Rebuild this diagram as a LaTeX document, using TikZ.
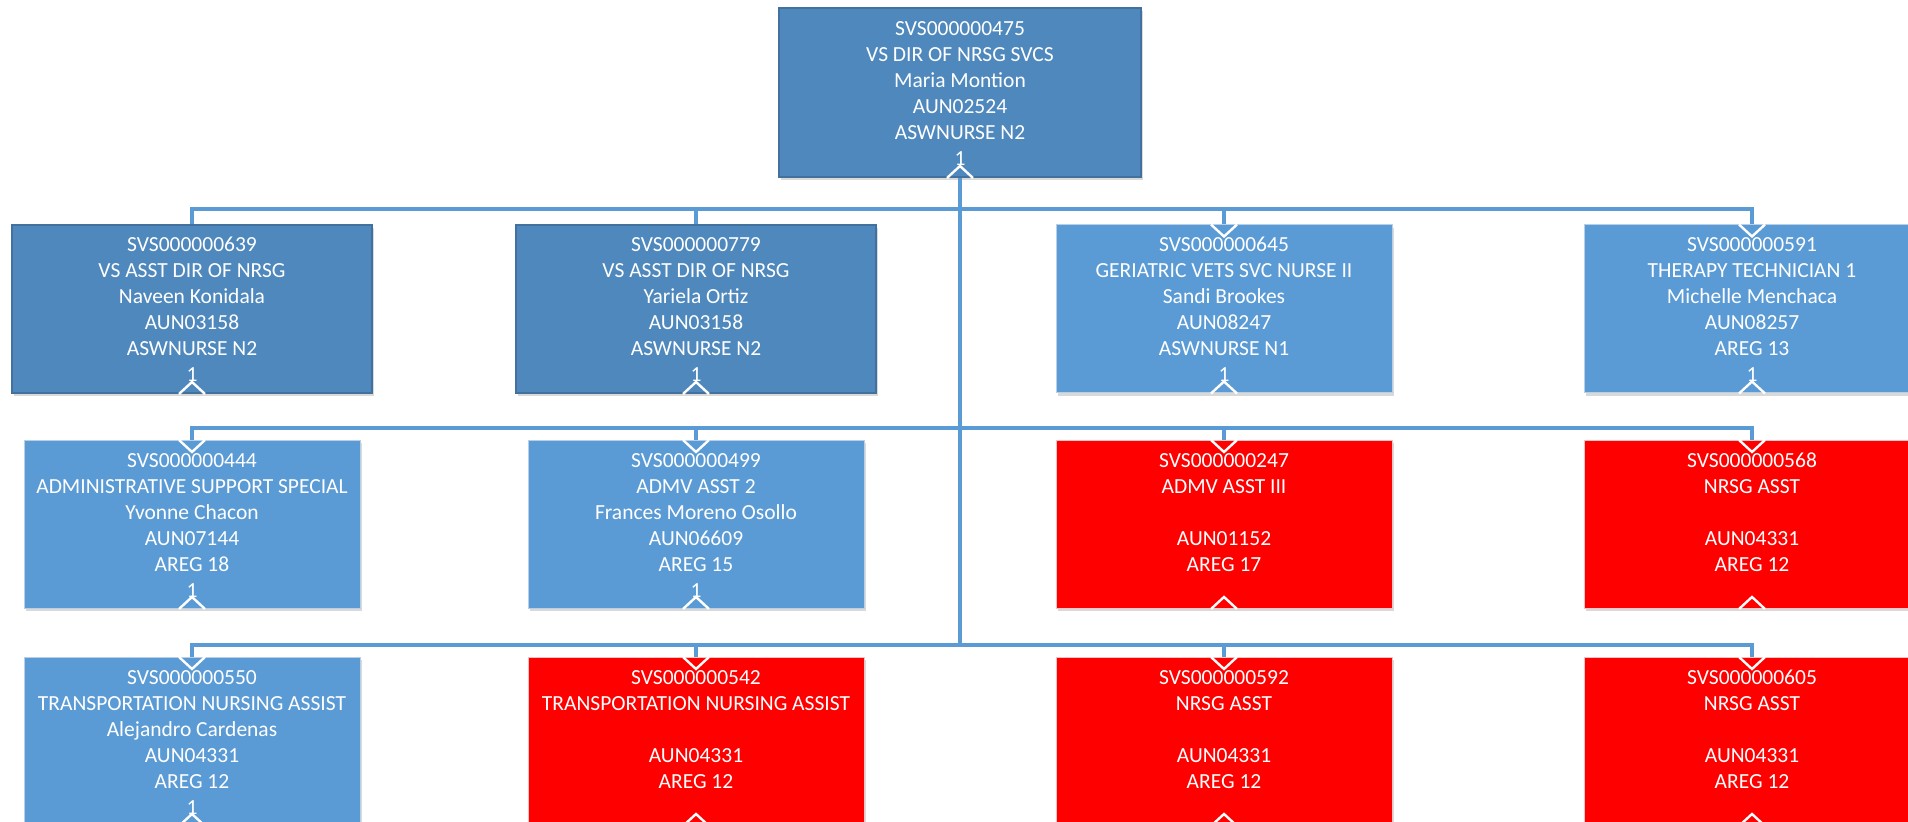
\documentclass[tikz,border=0pt]{standalone}
\usepackage{fontspec}
\setmainfont{Carlito}
\usetikzlibrary{shadows}
\definecolor{dkblue}{HTML}{4F88BD}
\definecolor{dkborder}{HTML}{41719C}
\definecolor{ltblue}{HTML}{5B9BD5}
\definecolor{ltborder}{HTML}{B9CFE8}
\definecolor{redfill}{HTML}{FF0000}
\definecolor{redborder}{HTML}{EFC4C4}
\definecolor{connblue}{HTML}{5B9BD5}
\newcommand{\orglines}[6]{\rule{0pt}{11.9pt}\strut#1\\\strut#2\\\strut#3\\\strut#4\\\strut#5\\\strut#6}
\tikzset{
  orgbox/.style={rectangle, inner sep=0pt, text=white, align=center,
    font=\fontsize{10.75}{13}\selectfont,
    drop shadow={shadow xshift=0.8pt, shadow yshift=-1.4pt, opacity=0.15, fill=black}},
  dark/.style={orgbox, fill=dkblue, draw=dkborder, line width=1pt},
  light/.style={orgbox, fill=ltblue, draw=ltborder, line width=0.5pt},
  vacant/.style={orgbox, fill=redfill, draw=redborder, line width=0.5pt},
  wide/.style={minimum width=180pt, minimum height=84pt},
  narrow/.style={minimum width=168pt, minimum height=84pt},
  conn/.style={draw=connblue, line width=2pt},
  chev/.style={draw=white, line width=1.2pt},
}
\begin{document}
\begin{tikzpicture}[x=0.5pt, y=-0.5pt]
\useasboundingbox (0,0) rectangle (1908,822);
\fill[white] (0,0) rectangle (1908,822);
\clip (0,0) rectangle (1908,822);
% top
\node[dark, minimum width=181pt, minimum height=84.5pt] (top) at (960,92.5)
  {\orglines{SVS000000475}{VS DIR OF NRSG SVCS}{Maria Montion}{AUN02524}{ASWNURSE N2}{1}};
% row 1
\node[dark, wide] (n639) at (192,309)
  {\orglines{SVS000000639}{VS ASST DIR OF NRSG}{Naveen Konidala}{AUN03158}{ASWNURSE N2}{1}};
\node[dark, wide] (n779) at (696,309)
  {\orglines{SVS000000779}{VS ASST DIR OF NRSG}{Yariela Ortiz}{AUN03158}{ASWNURSE N2}{1}};
\node[light, narrow] (n645) at (1224,309)
  {\orglines{SVS000000645}{GERIATRIC VETS SVC NURSE II}{Sandi Brookes}{AUN08247}{ASWNURSE N1}{1}};
\node[light, narrow] (n591) at (1752,309)
  {\orglines{SVS000000591}{THERAPY TECHNICIAN 1}{Michelle Menchaca}{AUN08257}{AREG 13}{1}};
% row 2
\node[light, narrow] (n444) at (192,524.5)
  {\orglines{SVS000000444}{ADMINISTRATIVE SUPPORT SPECIAL}{Yvonne Chacon}{AUN07144}{AREG 18}{1}};
\node[light, narrow] (n499) at (696,524.5)
  {\orglines{SVS000000499}{ADMV ASST 2}{Frances Moreno Osollo}{AUN06609}{AREG 15}{1}};
\node[vacant, narrow] (n247) at (1224,524.5)
  {\orglines{SVS000000247}{ADMV ASST III}{}{AUN01152}{AREG 17}{}};
\node[vacant, narrow] (n568) at (1752,524.5)
  {\orglines{SVS000000568}{NRSG ASST}{}{AUN04331}{AREG 12}{}};
% row 3
\node[light, narrow] (n550) at (192,741.5)
  {\orglines{SVS000000550}{TRANSPORTATION NURSING ASSIST}{Alejandro Cardenas}{AUN04331}{AREG 12}{1}};
\node[vacant, narrow] (n542) at (696,741.5)
  {\orglines{SVS000000542}{TRANSPORTATION NURSING ASSIST}{}{AUN04331}{AREG 12}{}};
\node[vacant, narrow] (n592) at (1224,741.5)
  {\orglines{SVS000000592}{NRSG ASST}{}{AUN04331}{AREG 12}{}};
\node[vacant, narrow] (n605) at (1752,741.5)
  {\orglines{SVS000000605}{NRSG ASST}{}{AUN04331}{AREG 12}{}};
% bus points on trunk
\coordinate (b1) at (960,209);
\coordinate (b2) at (960,428);
\coordinate (b3) at (960,645);
% connectors
\draw[conn] (top.south) -- (b3);
\foreach \n in {n639,n779,n645,n591} \draw[conn] (b1) -| (\n.north);
\foreach \n in {n444,n499,n247,n568} \draw[conn] (b2) -| (\n.north);
\foreach \n in {n550,n542,n592,n605} \draw[conn] (b3) -| (\n.north);
% chevrons
\foreach \n in {top,n639,n779,n645,n591,n444,n499,n247,n568,n550,n542,n592,n605}
  \draw[chev] ([xshift=-6.5pt]\n.south) -- ([yshift=6pt]\n.south) -- ([xshift=6.5pt]\n.south);
\foreach \n in {n645,n591,n444,n499,n247,n568,n550,n542,n592,n605}
  \draw[chev] ([xshift=-6.5pt]\n.north) -- ([yshift=-6pt]\n.north) -- ([xshift=6.5pt]\n.north);
\end{tikzpicture}
\end{document}
